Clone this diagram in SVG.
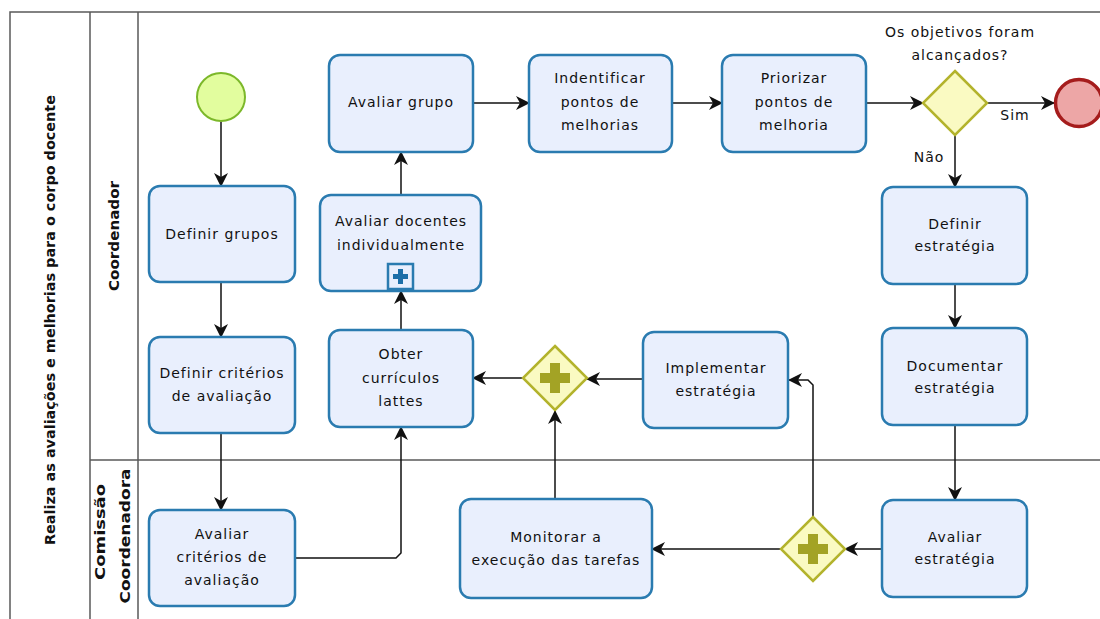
<svg xmlns="http://www.w3.org/2000/svg" width="1100" height="619" viewBox="0 0 1100 619">
<style>
.pool{fill:none;stroke:#5a5a5a;stroke-width:1.5}
.task{fill:#e9effd;stroke:#2a7bb0;stroke-width:2.5}
.t{font-family:"DejaVu Sans",sans-serif;font-size:14px;letter-spacing:1px;fill:#111;text-anchor:middle}
.lb{font-family:"DejaVu Sans",sans-serif;font-size:14px;font-weight:bold;fill:#111;text-anchor:middle}
.flow{fill:none;stroke:#111;stroke-width:1.5;marker-end:url(#arr)}
.gw{fill:#fafac2;stroke:#b3b32c;stroke-width:2.5}
.plus{fill:#a3a325}
</style>
<defs>
<marker id="arr" markerUnits="userSpaceOnUse" markerWidth="14" markerHeight="14" viewBox="0 0 14 14" refX="13" refY="7" orient="auto">
<path d="M0,0 L14,7 L0,14 L4,7 z" fill="#111"/>
</marker>
</defs>
<rect width="1100" height="619" fill="#fff"/>
<g id="pool">
<path class="pool" d="M10,619 V12 H1100 M90,12 V619 M138,12 V619 M90,460 H1100"/>
<text class="lb" transform="translate(55,320) rotate(-90)" textLength="450" lengthAdjust="spacingAndGlyphs">Realiza as avaliações e melhorias para o corpo docente</text>
<text class="lb" transform="translate(119,236) rotate(-90)" textLength="110" lengthAdjust="spacingAndGlyphs">Coordenador</text>
<text class="lb" transform="translate(105,532) rotate(-90)" textLength="96" lengthAdjust="spacingAndGlyphs">Comissão</text>
<text class="lb" transform="translate(130,536) rotate(-90)" textLength="135" lengthAdjust="spacingAndGlyphs">Coordenadora</text>
</g>
<g id="connectors">
<path class="flow" d="M221,122 V186"/>
<path class="flow" d="M221,282 V337"/>
<path class="flow" d="M221,433 V510"/>
<path class="flow" d="M295,558 H396 L401,553 V427"/>
<path class="flow" d="M401,330 V291"/>
<path class="flow" d="M401,195 V152"/>
<path class="flow" d="M473,103 H529"/>
<path class="flow" d="M672,103 H722"/>
<path class="flow" d="M866,103 H923"/>
<path class="flow" d="M987,103 H1054"/>
<path class="flow" d="M955,135 V187"/>
<path class="flow" d="M955,284 V328"/>
<path class="flow" d="M955,425 V500"/>
<path class="flow" d="M882,549 H845"/>
<path class="flow" d="M781,549 H652"/>
<path class="flow" d="M813,517 V385 L808,380 H789"/>
<path class="flow" d="M643,379 H587"/>
<path class="flow" d="M555,499 V411"/>
<path class="flow" d="M522,378 H473"/>
<text class="t" x="1015" y="120">Sim</text>
<text class="t" x="929" y="162">Não</text>
</g>
<g id="start"><circle cx="221" cy="97" r="24" fill="#e2fd9e" stroke="#7cb82a" stroke-width="2"/></g>
<g id="end"><circle cx="1079" cy="103" r="23.5" fill="#eda6a6" stroke="#a51c1c" stroke-width="3.5"/></g>
<g id="definir-grupos"><rect class="task" x="149" y="186" width="146" height="96" rx="11"/><text class="t" x="222" y="239">Definir grupos</text></g>
<g id="definir-criterios"><rect class="task" x="149" y="337" width="146" height="96" rx="11"/><text class="t" x="222" y="378">Definir critérios</text><text class="t" x="222" y="401">de avaliação</text></g>
<g id="avaliar-criterios"><rect class="task" x="149" y="510" width="146" height="96" rx="11"/><text class="t" x="222" y="539">Avaliar</text><text class="t" x="222" y="562">critérios de</text><text class="t" x="222" y="585">avaliação</text></g>
<g id="obter-curriculos"><rect class="task" x="329" y="330" width="144" height="97" rx="11"/><text class="t" x="401" y="359">Obter</text><text class="t" x="401" y="383">currículos</text><text class="t" x="401" y="406">lattes</text></g>
<g id="avaliar-docentes"><rect class="task" x="320" y="195" width="161" height="96" rx="11"/><text class="t" x="401" y="226">Avaliar docentes</text><text class="t" x="401" y="250">individualmente</text>
<rect x="388" y="264" width="25" height="25" fill="#e9effd" stroke="#2a7bb0" stroke-width="2.5"/><path d="M398,269 h5 v5 h5 v5 h-5 v5 h-5 v-5 h-5 v-5 h5 z" fill="#1d6fa8"/></g>
<g id="avaliar-grupo"><rect class="task" x="329" y="55" width="144" height="97" rx="11"/><text class="t" x="401" y="107">Avaliar grupo</text></g>
<g id="identificar"><rect class="task" x="529" y="55" width="143" height="97" rx="11"/><text class="t" x="600" y="83">Indentificar</text><text class="t" x="600" y="107">pontos de</text><text class="t" x="600" y="130">melhorias</text></g>
<g id="priorizar"><rect class="task" x="722" y="55" width="144" height="97" rx="11"/><text class="t" x="794" y="83">Priorizar</text><text class="t" x="794" y="107">pontos de</text><text class="t" x="794" y="130">melhoria</text></g>
<g id="gateway-objetivos"><path class="gw" d="M955,71 L987,103 L955,135 L923,103 z"/><text class="t" x="960" y="37">Os objetivos foram</text><text class="t" x="960" y="60">alcançados?</text></g>
<g id="definir-estrategia"><rect class="task" x="882" y="187" width="145" height="97" rx="11"/><text class="t" x="955" y="229">Definir</text><text class="t" x="955" y="251">estratégia</text></g>
<g id="documentar-estrategia"><rect class="task" x="882" y="328" width="145" height="97" rx="11"/><text class="t" x="955" y="371">Documentar</text><text class="t" x="955" y="393">estratégia</text></g>
<g id="avaliar-estrategia"><rect class="task" x="882" y="500" width="145" height="97" rx="11"/><text class="t" x="955" y="542">Avaliar</text><text class="t" x="955" y="564">estratégia</text></g>
<g id="gateway-bottom"><path class="gw" d="M813,517 L845,549 L813,581 L781,549 z"/><path class="plus" d="M808,534 h10 v10 h10 v10 h-10 v10 h-10 v-10 h-10 v-10 h10 z"/></g>
<g id="monitorar"><rect class="task" x="460" y="499" width="192" height="99" rx="11"/><text class="t" x="556" y="542">Monitorar a</text><text class="t" x="556" y="565">execução das tarefas</text></g>
<g id="implementar"><rect class="task" x="643" y="332" width="145" height="96" rx="11"/><text class="t" x="716" y="373">Implementar</text><text class="t" x="716" y="396">estratégia</text></g>
<g id="gateway-top"><path class="gw" d="M555,346 L587,378 L555,410 L523,378 z"/><path class="plus" d="M550,363 h10 v10 h10 v10 h-10 v10 h-10 v-10 h-10 v-10 h10 z"/></g>
</svg>
